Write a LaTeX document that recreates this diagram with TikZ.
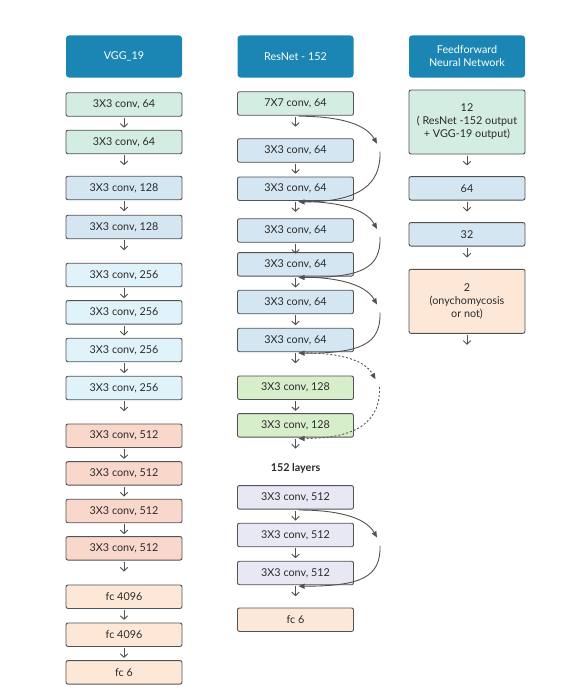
\documentclass[tikz,border=0pt]{standalone}
\usepackage{fontspec}
\setmainfont{Lato}
\usetikzlibrary{arrows.meta}

\definecolor{hdr}{HTML}{1B86B4}
\definecolor{edge}{HTML}{525252}
\definecolor{txt}{HTML}{2B2B2B}
\definecolor{mint}{HTML}{D3EDE3}
\definecolor{lblue}{HTML}{D4E6F1}
\definecolor{pcyan}{HTML}{E1F3FA}
\definecolor{salmon}{HTML}{F9D7CB}
\definecolor{peach}{HTML}{FDE8D7}
\definecolor{lgreen}{HTML}{D7EECB}
\definecolor{lav}{HTML}{E8E8F4}

\begin{document}
\begin{tikzpicture}[x=1pt,y=-1pt,
  layer/.style={draw=edge, line width=0.9pt, rounded corners=2pt,
    minimum width=116pt, minimum height=23.5pt, inner sep=0pt,
    align=center, text=txt, font=\fontsize{10.8}{13}\selectfont},
  tall/.style={layer, minimum height=64pt},
  head/.style={fill=hdr, rounded corners=3pt, minimum width=116pt,
    minimum height=42pt, inner sep=0pt, align=center, text=white,
    font=\fontsize{10.8}{13}\selectfont},
  flow/.style={draw=edge, line width=0.95pt,
    -{Straight Barb[length=3.5pt,width=7.5pt]}},
  skip/.style={draw=edge, line width=0.9pt,
    -{Triangle[length=6pt,width=5pt]}},
  skipdash/.style={skip, dash pattern=on 2pt off 2pt}
]
\useasboundingbox[fill=white] (0,0) rectangle (576,693);

% column headers
\node[head] (hv) at (124,56.5) {VGG\_19};
\node[head] (hr) at (295.5,56.5) {ResNet - 152};
\node[head] (hf) at (467,56.5) {Feedforward\\Neural Network};

% VGG-19 layers
\node[layer, fill=mint]   (v1)  at (124,104.5) {3X3 conv, 64};
\node[layer, fill=mint]   (v2)  at (124,142)   {3X3 conv, 64};
\node[layer, fill=lblue]  (v3)  at (124,188)   {3X3 conv, 128};
\node[layer, fill=lblue]  (v4)  at (124,227)   {3X3 conv, 128};
\node[layer, fill=pcyan]  (v5)  at (124,275)   {3X3 conv, 256};
\node[layer, fill=pcyan]  (v6)  at (124,312.3) {3X3 conv, 256};
\node[layer, fill=pcyan]  (v7)  at (124,350)   {3X3 conv, 256};
\node[layer, fill=pcyan]  (v8)  at (124,388)   {3X3 conv, 256};
\node[layer, fill=salmon] (v9)  at (124,435.7) {3X3 conv, 512};
\node[layer, fill=salmon] (v10) at (124,473.3) {3X3 conv, 512};
\node[layer, fill=salmon] (v11) at (124,511)   {3X3 conv, 512};
\node[layer, fill=salmon] (v12) at (124,548.3) {3X3 conv, 512};
\node[layer, fill=peach]  (v13) at (124,596.7) {fc 4096};
\node[layer, fill=peach]  (v14) at (124,634.7) {fc 4096};
\node[layer, fill=peach]  (v15) at (124,672.3) {fc 6};

% ResNet-152 layers
\node[layer, fill=mint]   (r1)  at (295.5,103.5) {7X7 conv, 64};
\node[layer, fill=lblue]  (r2)  at (295.5,150.5) {3X3 conv, 64};
\node[layer, fill=lblue]  (r3)  at (295.5,188.7) {3X3 conv, 64};
\node[layer, fill=lblue]  (r4)  at (295.5,230.5) {3X3 conv, 64};
\node[layer, fill=lblue]  (r5)  at (295.5,264.3) {3X3 conv, 64};
\node[layer, fill=lblue]  (r6)  at (295.5,302)   {3X3 conv, 64};
\node[layer, fill=lblue]  (r7)  at (295.5,340)   {3X3 conv, 64};
\node[layer, fill=lgreen] (r8)  at (295.5,387.7) {3X3 conv, 128};
\node[layer, fill=lgreen] (r9)  at (295.5,425.3) {3X3 conv, 128};
\node[text=txt, font=\fontsize{10.8}{13}\selectfont\bfseries] (rl) at (295.5,468.5) {152 layers};
\node[layer, fill=lav]    (r10) at (295.5,497.3) {3X3 conv, 512};
\node[layer, fill=lav]    (r11) at (295.5,535)   {3X3 conv, 512};
\node[layer, fill=lav]    (r12) at (295.5,573)   {3X3 conv, 512};
\node[layer, fill=peach]  (r13) at (295.5,619.7) {fc 6};

% feedforward network layers
\node[tall, fill=mint]    (f1) at (467,122)   {12\\( ResNet -152 output\\+ VGG-19 output)};
\node[layer, fill=lblue]  (f2) at (467,188.3) {64};
\node[layer, fill=lblue]  (f3) at (467,234.3) {32};
\node[tall, fill=peach]   (f4) at (467,301.3) {2\\(onychomycosis\\or not)};

% short output arrow under every layer
\foreach \n in {v1,v2,v3,v4,v5,v6,v7,v8,v9,v10,v11,v12,v13,v14,
                r1,r2,r3,r4,r5,r6,r7,r8,r9,r10,r11,r12,f1,f2,f3,f4} {
  \coordinate (\n o) at ([yshift=-11pt]\n.south);
  \draw[flow] ([yshift=-1.2pt]\n.south) -- (\n o);
}

% residual shortcuts: out to the right, back into the stream two layers down
\foreach \a/\b/\k in {r1/r3/1, r3/r5/2, r5/r7/3, r10/r12/5} {
  \coordinate (k\k s) at ([xshift=3pt,yshift=-0.5pt]\a.south);
  \coordinate (k\k a) at ([xshift=81.5pt,yshift=-28pt]\a.south);
  \coordinate (k\k b) at ([xshift=84.5pt,yshift=-36pt]\a.south);
  \coordinate (k\k e) at ([xshift=3pt,yshift=-1pt]\b.south);
  \draw[skip] (k\k s) .. controls +(37,0) and +(-12,-21) .. (k\k a);
  \draw[skip] (k\k b) .. controls +(1,32) and +(62,0) .. (k\k e);
}
% projection shortcut (dashed)
\coordinate (k4s) at ([xshift=3pt,yshift=-0.5pt]r7.south);
\coordinate (k4a) at ([xshift=80pt,yshift=-27pt]r7.south);
\coordinate (k4b) at ([xshift=84pt,yshift=-35pt]r7.south);
\coordinate (k4e) at ([xshift=3pt,yshift=-1pt]r9.south);
\draw[skipdash] (k4s) .. controls +(37,0) and +(-12,-21) .. (k4a);
\draw[skipdash] (k4b) .. controls +(1,32) and +(62,0) .. (k4e);
\end{tikzpicture}
\end{document}
